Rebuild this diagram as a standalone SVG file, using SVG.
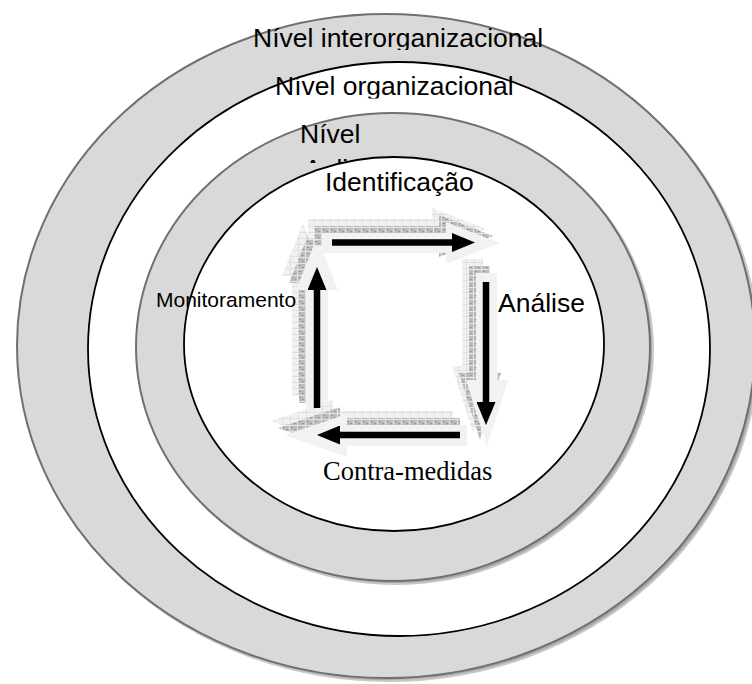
<svg xmlns="http://www.w3.org/2000/svg" width="752" height="684" viewBox="0 0 752 684">
  <style>
    .ring { fill: #d9d9d9; stroke: #707070; stroke-width: 2; }
    .ring-shadow { fill: #a8a8a8; stroke: #c8c8c8; stroke-width: 2; }
    .band { fill: #ffffff; stroke: #000000; stroke-width: 1.8; }
    .sans { font-family: "Liberation Sans", Arial, sans-serif; fill: #000; }
    .serif { font-family: "Liberation Serif", "Times New Roman", serif; fill: #000; }
    .big { font-size: 26.5px; }
    .face { fill: #f2f2f2; }
    .back { fill: url(#gridLt); }
    .side { fill: url(#gridDk); }
    .flow { stroke: #000; stroke-width: 6.5; fill: none; marker-end: url(#head); }
  </style>
  <defs>
    <pattern id="gridLt" width="8" height="6" patternUnits="userSpaceOnUse">
      <rect width="8" height="6" fill="#f1f1f1"/>
      <path d="M0 0.5H8M0.5 0V6" stroke="#e0e0e0" stroke-width="1"/>
    </pattern>
    <pattern id="gridDk" width="8" height="6" patternUnits="userSpaceOnUse">
      <rect width="8" height="6" fill="#bcbcbc"/>
      <path d="M0 0.5H8M0.5 0V6" stroke="#e2e2e2" stroke-width="1"/>
      <path d="M2 2.5h1.5M5 4.5h1.5" stroke="#8c8c8c" stroke-width="1"/>
    </pattern>
    <marker id="head" markerUnits="userSpaceOnUse" markerWidth="23" markerHeight="19" refX="0" refY="9.5" orient="auto">
      <path d="M0,0 L23,9.5 L0,19 z" fill="#000"/>
    </marker>
    <clipPath id="clipInter"><rect x="0" y="0" width="752" height="50"/></clipPath>
    <clipPath id="clipOrg"><rect x="0" y="60" width="752" height="38.5"/></clipPath>
    <clipPath id="clipApp"><rect x="0" y="110" width="752" height="53"/></clipPath>
    <!-- block arrow outlines (front faces) -->
    <polygon id="blkTop" points="322,233 446,233 446,222 500,243 446,264 446,253 322,253"/>
    <polygon id="blkRight" points="476,273 497,273 497,380 508,380 487,447 466,380 476,380"/>
    <polygon id="blkBottom" points="467,425 467,446 347,446 347,457 285,435 347,414 347,425"/>
    <polygon id="blkLeft" points="306,410 306,290 296,290 317,237 338,290 328,290 328,410"/>
  </defs>

  <!-- Interorganizational level -->
  <g id="level-inter">
    <ellipse class="ring-shadow" cx="389" cy="349" rx="369" ry="332"/>
    <ellipse class="ring" cx="386" cy="346" rx="369" ry="332"/>
    <text class="sans big" x="253" y="47" clip-path="url(#clipInter)">Nível interorganizacional</text>
  </g>

  <!-- Organizational level -->
  <g id="level-org">
    <ellipse class="band" cx="399" cy="349" rx="311" ry="287"/>
    <text class="sans big" x="275" y="95" clip-path="url(#clipOrg)">Nível organizacional</text>
  </g>

  <!-- Application level -->
  <g id="level-app">
    <ellipse class="ring-shadow" cx="396" cy="350" rx="257" ry="234"/>
    <ellipse class="ring" cx="393" cy="347" rx="257" ry="234"/>
    <g clip-path="url(#clipApp)">
      <text class="sans big" x="300" y="143">Nível</text>
      <text class="sans big" x="304" y="178">Aplicação</text>
    </g>
  </g>

  <!-- Risk management cycle -->
  <g id="cycle">
    <ellipse class="band" cx="394" cy="344" rx="210" ry="187"/>
  </g>

  <!-- 3D block arrows behind the flow arrows -->
  <g id="blocks">
    <use href="#blkLeft" class="back" transform="translate(-14,-14)"/>
    <use href="#blkLeft" class="side" transform="translate(-7,-7)"/>
    <use href="#blkLeft" class="face"/>
    <use href="#blkTop" class="back" transform="translate(-14,-14)"/>
    <use href="#blkTop" class="side" transform="translate(-7,-7)"/>
    <use href="#blkTop" class="face"/>
    <use href="#blkRight" class="back" transform="translate(-14,-14)"/>
    <use href="#blkRight" class="side" transform="translate(-7,-7)"/>
    <use href="#blkRight" class="face"/>
    <use href="#blkBottom" class="back" transform="translate(-14,-14)"/>
    <use href="#blkBottom" class="side" transform="translate(-7,-7)"/>
    <use href="#blkBottom" class="face"/>
  </g>

  <g id="step-identificacao">
    <text class="sans big" x="325" y="191">Identificação</text>
  </g>
  <g id="step-analise">
    <text class="sans big" x="498" y="312">Análise</text>
  </g>
  <g id="step-contramedidas">
    <text class="serif big" x="323" y="480">Contra-medidas</text>
  </g>
  <g id="step-monitoramento">
    <text class="sans" font-size="21" x="156" y="307">Monitoramento</text>
  </g>

  <g id="connectors">
    <line class="flow" x1="332" y1="242.5" x2="452" y2="242.5"/>
    <line class="flow" x1="486" y1="282" x2="486" y2="402"/>
    <line class="flow" x1="460" y1="435" x2="340" y2="435"/>
    <line class="flow" x1="317" y1="408" x2="317" y2="290"/>
  </g>
</svg>
